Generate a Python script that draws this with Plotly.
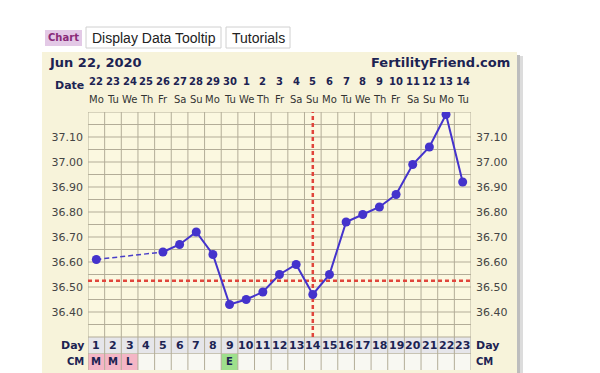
import plotly.graph_objects as go

# ---------------- data ----------------
days = list(range(1, 24))
temps = [36.61, None, None, None, 36.64, 36.67, 36.72, 36.63, 36.43, 36.45, 36.48,
         36.55, 36.59, 36.47, 36.55, 36.76, 36.79, 36.82, 36.87, 36.99, 37.06, 37.19, 36.92]
dates = ["22", "23", "24", "25", "26", "27", "28", "29", "30", "1", "2", "3", "4",
         "5", "6", "7", "8", "9", "10", "11", "12", "13", "14"]
weekdays = (["Mo", "Tu", "We", "Th", "Fr", "Sa", "Su"] * 4)[:23]
cm_days = [1, 2, 3, 9]
cm_labels = ["M", "M", "L", "E"]
cm_colors = ["#f4b6c6", "#f4b6c6", "#f4b6c6", "#9ee08c"]
coverline = 36.525
ovulation_day = 14
ytick_vals = [36.40, 36.50, 36.60, 36.70, 36.80, 36.90, 37.00, 37.10]
temp_min, temp_max = 36.30, 37.20
row_h = 0.066

# page has an 8px body margin; figure is placed at (8, 8) in the viewport
OFF = 8
W, H = 600 - OFF, 373 - OFF
L, R, T, B = 88, 471, 112, 370  # plot area in viewport pixels


def px(xp):
    return (xp - L) / (R - L)


def py(yp):
    return (B - yp) / (B - T)


day_row_bottom = temp_min - row_h
cm_row_bottom = temp_min - 2 * row_h
yrange = [cm_row_bottom, temp_max]

fig = go.Figure()

shapes = []
# shadow + panel
shapes.append(dict(type="rect", xref="paper", yref="paper", x0=px(46), x1=px(523),
                   y0=py(390), y1=py(56), fillcolor="#dcdcdc", line_width=0, layer="below"))
shapes.append(dict(type="rect", xref="paper", yref="paper", x0=px(46), x1=px(520),
                   y0=py(390), y1=py(55), fillcolor="#bdbdbd", line_width=0, layer="below"))
shapes.append(dict(type="rect", xref="paper", yref="paper", x0=px(42), x1=px(517),
                   y0=py(390), y1=py(52), fillcolor="#f7f3da", line_width=0, layer="below"))
# grid background
shapes.append(dict(type="rect", xref="x", yref="y", x0=0.5, x1=23.5, y0=temp_min, y1=temp_max,
                   fillcolor="#fbf8e0", line_width=0, layer="below"))
# day row
shapes.append(dict(type="rect", xref="x", yref="y", x0=0.5, x1=23.5, y0=day_row_bottom, y1=temp_min,
                   fillcolor="#e6e6ea", line_width=0, layer="below"))
# cm row
shapes.append(dict(type="rect", xref="x", yref="y", x0=0.5, x1=23.5, y0=cm_row_bottom, y1=day_row_bottom,
                   fillcolor="#f8f8f2", line_width=0, layer="below"))
for d, c in zip(cm_days, cm_colors):
    shapes.append(dict(type="rect", xref="x", yref="y", x0=d - 0.5, x1=d + 0.5,
                       y0=cm_row_bottom, y1=day_row_bottom, fillcolor=c, line_width=0, layer="below"))
# horizontal grid lines every 0.05
n_h = int(round((temp_max - temp_min) / 0.05))
for i in range(n_h + 1):
    yv = temp_min + i * 0.05
    shapes.append(dict(type="line", xref="x", yref="y", x0=0.5, x1=23.5, y0=yv, y1=yv,
                       line=dict(color="#b3ad98", width=1), layer="below"))
shapes.append(dict(type="line", xref="x", yref="y", x0=0.5, x1=23.5, y0=day_row_bottom, y1=day_row_bottom,
                   line=dict(color="#c8c4b4", width=1), layer="below"))
# vertical grid lines
for i in range(24):
    xv = 0.5 + i
    shapes.append(dict(type="line", xref="x", yref="y", x0=xv, x1=xv, y0=cm_row_bottom, y1=temp_max,
                       line=dict(color="#b3ad98", width=1), layer="below"))
# coverline and ovulation line
shapes.append(dict(type="line", xref="x", yref="y", x0=0.5, x1=23.5, y0=coverline, y1=coverline,
                   line=dict(color="#e0453c", width=2.5, dash="4px,3px"), layer="below"))
shapes.append(dict(type="line", xref="x", yref="y", x0=ovulation_day, x1=ovulation_day,
                   y0=temp_min, y1=temp_max,
                   line=dict(color="#e0453c", width=2.5, dash="4px,3px"), layer="below"))

# buttons
shapes.append(dict(type="rect", xref="paper", yref="paper", x0=px(45), x1=px(82), y0=py(46), y1=py(30),
                   fillcolor="#e3c9e6", line_width=0))
shapes.append(dict(type="rect", xref="paper", yref="paper", x0=px(86), x1=px(221), y0=py(48), y1=py(27),
                   fillcolor="#ffffff", line=dict(color="#d0d0d0", width=1)))
shapes.append(dict(type="rect", xref="paper", yref="paper", x0=px(226), x1=px(290), y0=py(48), y1=py(27),
                   fillcolor="#ffffff", line=dict(color="#d0d0d0", width=1)))

# --- traces ---
known = [(d, t) for d, t in zip(days, temps) if t is not None]
gap_x, gap_y = [], []
for (d0, t0), (d1, t1) in zip(known[:-1], known[1:]):
    if d1 - d0 > 1:
        gap_x += [d0, d1, None]
        gap_y += [t0, t1, None]
fig.add_trace(go.Scatter(x=gap_x, y=gap_y, mode="lines",
                         line=dict(color="#4a3fc8", width=1.5, dash="5px,3px"),
                         hoverinfo="skip", showlegend=False))
fig.add_trace(go.Scatter(x=days, y=temps, mode="lines+markers", connectgaps=False,
                         line=dict(color="#4433cc", width=2),
                         marker=dict(color="#4433cc", size=9),
                         showlegend=False))
fig.add_trace(go.Scatter(x=[None], y=[None], yaxis="y2", showlegend=False))

annotations = []
navy = "#1c2352"
F = "DejaVu Sans"


def ann(x, y, text, xref="paper", yref="paper", size=11, color=navy, family=F, xanchor="center"):
    return dict(x=x, y=y, xref=xref, yref=yref, text=text, showarrow=False,
                xanchor=xanchor, yanchor="middle", font=dict(family=family, size=size, color=color))


for d, ds, wd in zip(days, dates, weekdays):
    annotations.append(ann(d, py(81), "<b>" + ds + "</b>", xref="x", size=10))
    annotations.append(ann(d, py(100), wd, xref="x", size=10, color="#333333"))
    annotations.append(ann(d, temp_min - row_h / 2, "<b>" + str(d) + "</b>", xref="x", yref="y", size=11))
for d, lab in zip(cm_days, cm_labels):
    annotations.append(ann(d, temp_min - 1.5 * row_h, "<b>" + lab + "</b>", xref="x", yref="y", size=10))

annotations += [
    ann(px(86), py(85), "<b>Date</b>", size=11, xanchor="right"),
    ann(px(86), temp_min - row_h / 2, "<b>Day</b>", yref="y", size=11, xanchor="right"),
    ann(px(86), temp_min - 1.5 * row_h, "<b>CM</b>", yref="y", size=10, xanchor="right"),
    ann(px(474), temp_min - row_h / 2, "<b>Day</b>", yref="y", size=11, xanchor="left"),
    ann(px(474), temp_min - 1.5 * row_h, "<b>CM</b>", yref="y", size=10, xanchor="left"),
    ann(px(47), py(62), "<b>Jun 22, 2020</b>", size=13, xanchor="left"),
    ann(px(512), py(62), "<b>FertilityFriend.com</b>", size=13, xanchor="right"),
    ann(px(63.5), py(38), "<b>Chart</b>", size=10, color="#8a2a78"),
    ann(px(153.5), py(38), "Display Data Tooltip", size=14, color="#222222", family="Liberation Sans"),
    ann(px(258), py(38), "Tutorials", size=14, color="#222222", family="Liberation Sans"),
]

ytext = ["%.2f" % v for v in ytick_vals]
tickfont = dict(family=F, size=11, color="#444444")
fig.update_layout(
    width=W, height=H,
    margin=dict(l=L - OFF, r=600 - R, t=T - OFF, b=373 - B, pad=0),
    paper_bgcolor="#ffffff",
    plot_bgcolor="rgba(0,0,0,0)",
    shapes=shapes,
    annotations=annotations,
    xaxis=dict(range=[0.5, 23.5], showgrid=False, zeroline=False, showticklabels=False,
               ticks="", fixedrange=True),
    yaxis=dict(range=yrange, showgrid=False, zeroline=False, tickvals=ytick_vals, ticktext=ytext,
               tickfont=tickfont, ticks="", ticklabelstandoff=4),
    yaxis2=dict(range=yrange, overlaying="y", side="right", showgrid=False, zeroline=False,
                tickvals=ytick_vals, ticktext=ytext, tickfont=tickfont, ticks="", ticklabelstandoff=4),
    showlegend=False,
)

fig.write_html("out.html")
